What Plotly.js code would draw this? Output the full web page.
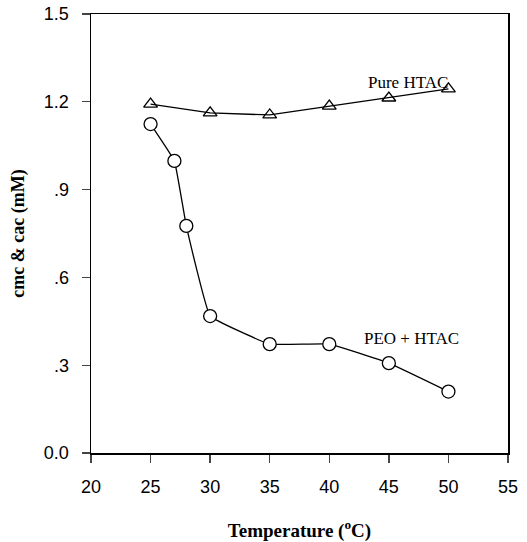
<!DOCTYPE html>
<html>
<head>
<meta charset="utf-8">
<script src="https://cdn.plot.ly/plotly-3.0.1.min.js"></script>
<style>html,body{margin:0;padding:0;background:#fff;}#chart{width:527px;height:542px;}</style>
</head>
<body>
<div id="chart"></div>
<script>
var pureTemp = [25, 30, 35, 40, 45, 50];
var pureCmc = [1.192, 1.162, 1.155, 1.185, 1.213, 1.244];
var peoTemp = [25, 27, 28, 30, 35, 40, 45, 50];
var peoCac = [1.124, 0.998, 0.776, 0.468, 0.372, 0.372, 0.307, 0.21];
var xTicks = [20, 25, 30, 35, 40, 45, 50, 55];
var yTickVals = [0, 0.3, 0.6, 0.9, 1.2, 1.5];
var yTickText = ["0.0", ".3", ".6", ".9", "1.2", "1.5"];

var traces = [
  {x: pureTemp, y: pureCmc, mode: 'lines+markers', name: 'Pure HTAC',
   line: {color: '#000', width: 1.3},
   marker: {symbol: 'triangle-up-open', size: 12, color: '#000', line: {width: 1.3}}},
  {x: peoTemp, y: peoCac, mode: 'lines+markers', name: 'PEO + HTAC',
   line: {color: '#000', width: 1.3, shape: 'spline', smoothing: 0.25},
   marker: {symbol: 'circle', size: 13, color: '#fff', line: {color: '#000', width: 1.3}}}
];

var layout = {
  width: 527, height: 542,
  margin: {l: 91, r: 19, t: 14, b: 89},
  paper_bgcolor: '#fff', plot_bgcolor: '#fff',
  showlegend: false,
  font: {family: 'Liberation Sans, Arial, sans-serif', color: '#000'},
  xaxis: {range: [20, 55], tickvals: xTicks, ticks: 'outside', ticklen: 8, tickwidth: 1.3,
    ticklabelstandoff: 9, automargin: false,
    showline: true, linewidth: 1.5, linecolor: '#000', mirror: true, showgrid: false, zeroline: false,
    tickfont: {size: 18, family: 'Liberation Sans, Arial, sans-serif'},
    title: {text: 'Temperature (<sup>o</sup>C)', standoff: 27,
      font: {family: 'Liberation Serif, Times New Roman, serif', size: 19, weight: 'bold'}}},
  yaxis: {range: [0, 1.5], tickvals: yTickVals, ticktext: yTickText, ticks: 'outside', ticklen: 8, tickwidth: 1.3,
    ticklabelstandoff: 9, automargin: false,
    showline: true, linewidth: 1.5, linecolor: '#000', mirror: true, showgrid: false, zeroline: false,
    tickfont: {size: 18, family: 'Liberation Sans, Arial, sans-serif'},
    title: {text: 'cmc & cac (mM)', standoff: 14,
      font: {family: 'Liberation Serif, Times New Roman, serif', size: 18, weight: 'bold'}}},
  annotations: [
    {x: 46.6, y: 1.267, xref: 'x', yref: 'y', text: 'Pure HTAC', showarrow: false,
     font: {family: 'Liberation Serif, Times New Roman, serif', size: 17, color: '#000'}},
    {x: 46.9, y: 0.39, xref: 'x', yref: 'y', text: 'PEO + HTAC', showarrow: false,
     font: {family: 'Liberation Serif, Times New Roman, serif', size: 17, color: '#000'}}
  ]
};
Plotly.newPlot('chart', traces, layout, {displayModeBar: false, staticPlot: true});
</script>
</body>
</html>
